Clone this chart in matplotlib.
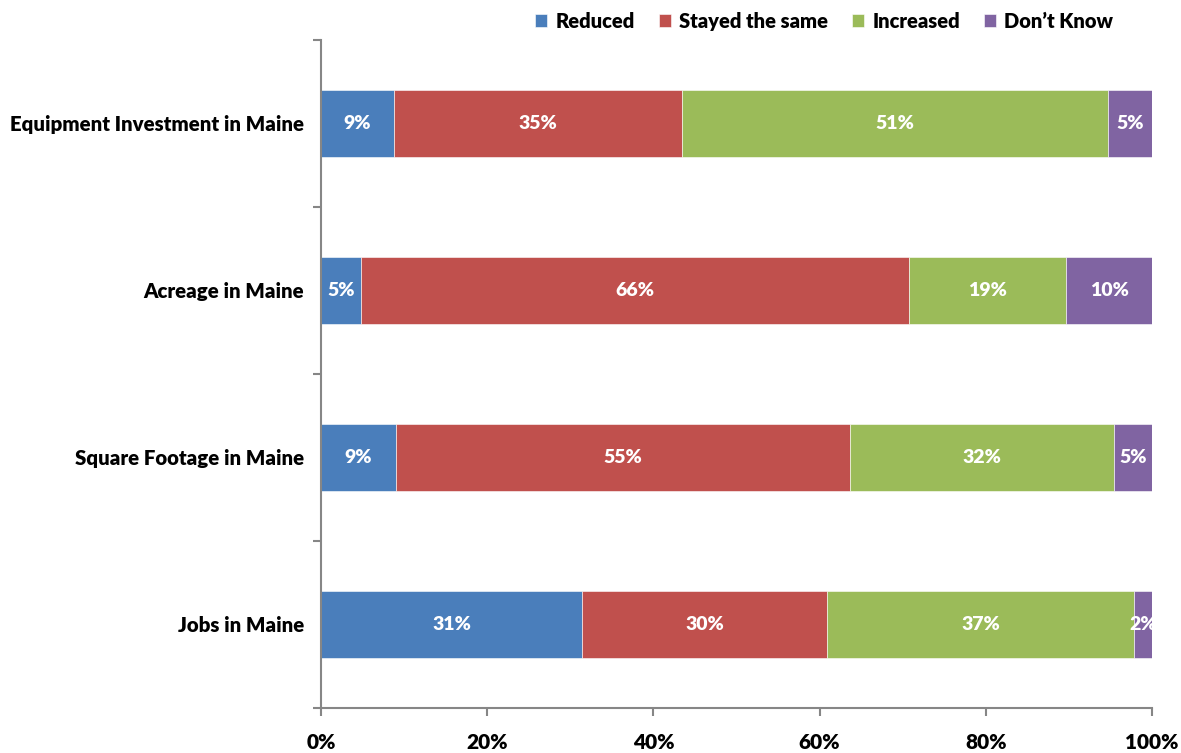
import numpy as np
import matplotlib.pyplot as plt
from matplotlib.ticker import FixedLocator, PercentFormatter

# %% data
categories = ['Equipment Investment in Maine', 'Acreage in Maine',
              'Square Footage in Maine', 'Jobs in Maine']
reduced = [8.8, 4.8, 9.0, 31.4]
stayed = [34.6, 66.0, 54.6, 29.5]
increased = [51.3, 18.9, 31.8, 36.9]
dont_know = [5.3, 10.3, 4.6, 2.2]
series_names = ['Reduced', 'Stayed the same', 'Increased', 'Don\u2019t Know']
colors = ['#4A7EBB', '#C0504D', '#9BBB59', '#8064A2']

plt.rcParams['font.family'] = ['Lato', 'DejaVu Sans']
plt.rcParams['font.weight'] = 'bold'

fig = plt.figure(figsize=(11.81, 7.53), dpi=100)
ax = fig.add_axes([0.2718, 0.0598, 0.9755 - 0.2718, 0.9469 - 0.0598])

y = np.arange(len(categories))
left = np.zeros(len(categories))
for vals, name, c in zip([reduced, stayed, increased, dont_know], series_names, colors):
    vals = np.array(vals)
    ax.barh(y, vals, left=left, height=0.4, color=c, label=name,
            edgecolor='white', linewidth=0.4)
    for yi, l, v in zip(y, left, vals):
        ax.text(l + v / 2, yi, '%d%%' % round(v), ha='center', va='center',
                color='white', fontsize=14, fontweight='heavy')
    left += vals

ax.set_xlim(0, 100)
ax.set_ylim(3.5, -0.5)
ax.xaxis.set_major_locator(FixedLocator([0, 20, 40, 60, 80, 100]))
ax.xaxis.set_major_formatter(PercentFormatter(decimals=0))
ax.yaxis.set_major_locator(FixedLocator([-0.5, 0.5, 1.5, 2.5, 3.5]))
ax.yaxis.set_major_formatter(plt.NullFormatter())
ax.yaxis.set_minor_locator(FixedLocator(y))
ax.set_yticklabels(categories, minor=True, fontweight='heavy')
ax.tick_params(axis='y', which='minor', length=0, pad=12, labelsize=14.7)
ax.tick_params(axis='y', which='major', length=6, color='#868686', width=1.5)
ax.tick_params(axis='x', which='major', length=6, color='#868686', width=1.5,
               labelsize=15, pad=12)
for t in ax.get_xticklabels():
    t.set_fontweight('heavy')

for s in ['top', 'right']:
    ax.spines[s].set_visible(False)
for s in ['left', 'bottom']:
    ax.spines[s].set_color('#868686')
    ax.spines[s].set_linewidth(1.5)

leg = fig.legend(loc='center', bbox_to_anchor=(0.698, 0.972), ncol=4, frameon=False,
                 fontsize=14.5, handlelength=0.6, handleheight=0.6, handletextpad=0.4,
                 columnspacing=1.2)
for t in leg.get_texts():
    t.set_fontweight('heavy')

plt.savefig('out.png', dpi=100)
